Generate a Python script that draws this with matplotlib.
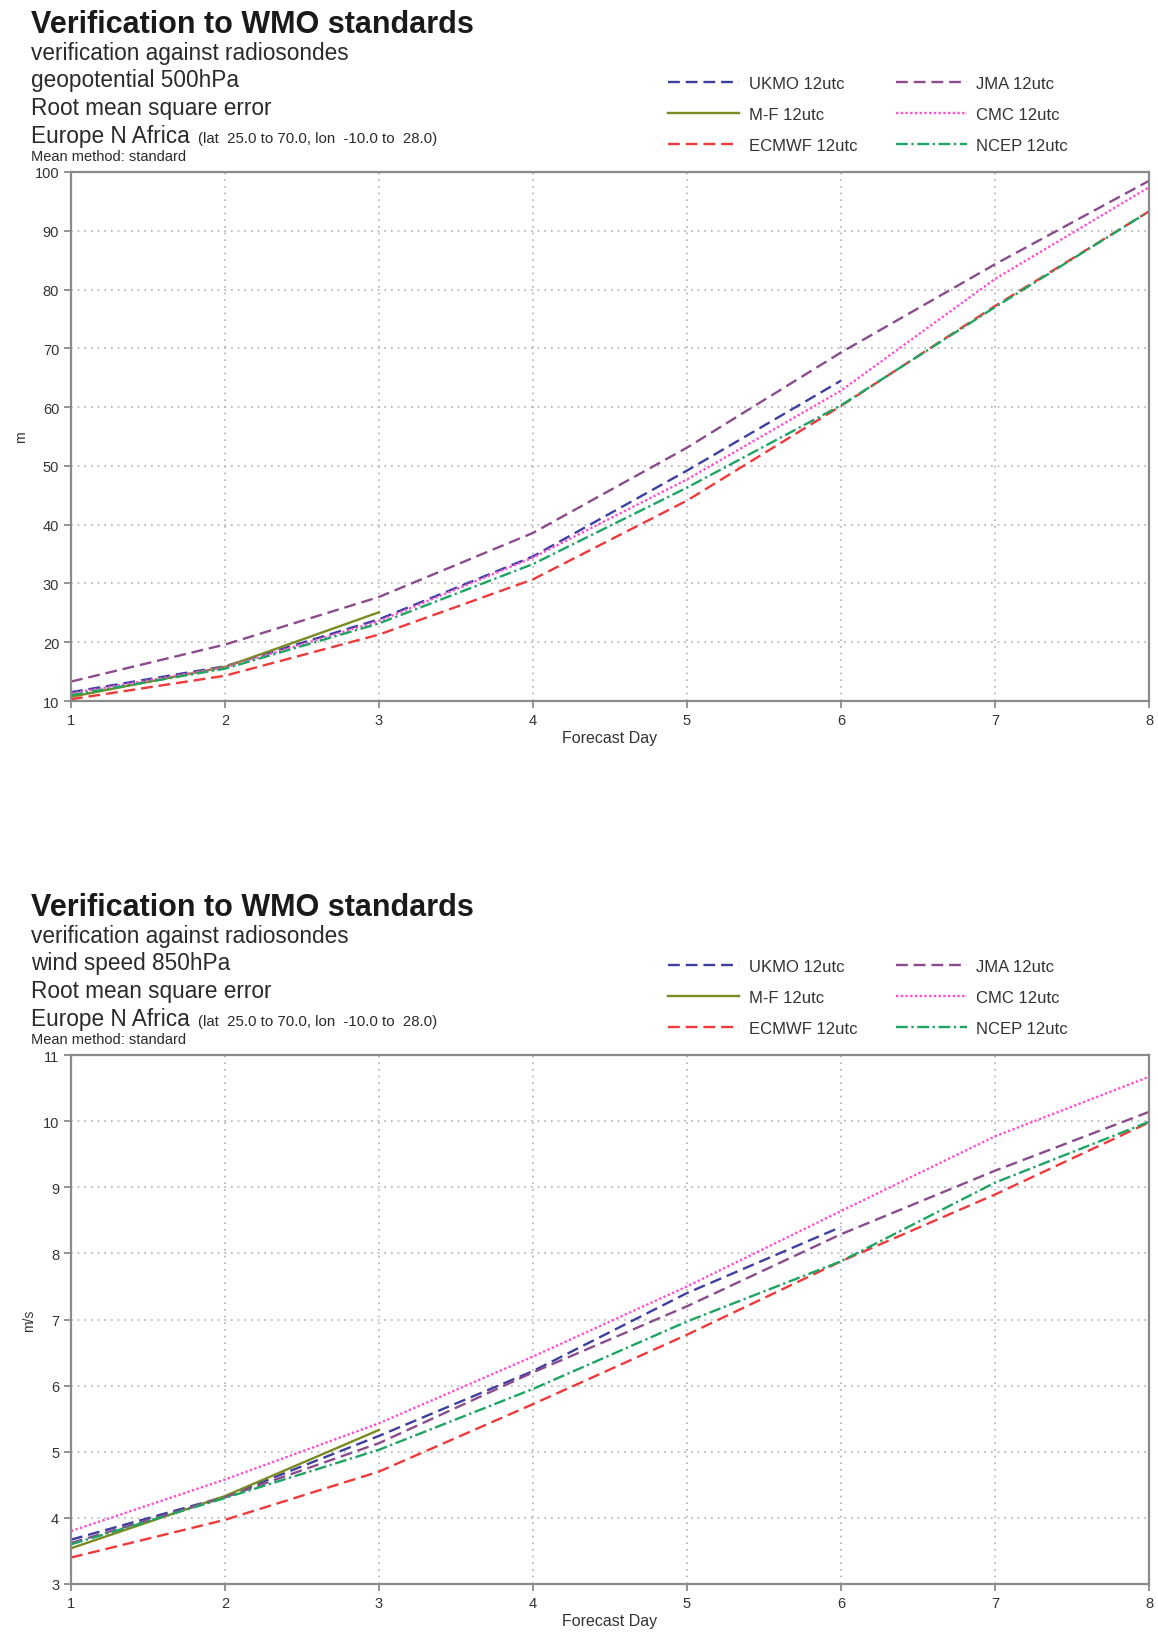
import matplotlib
matplotlib.use("Agg")
import matplotlib.pyplot as plt

plt.rcParams['font.family'] = ['Liberation Sans', 'DejaVu Sans']

days = [1, 2, 3, 4, 5, 6, 7, 8]

# geopotential 500hPa, RMSE (m)
z500_ukmo = [11.5, 15.9, 23.9, 34.6, 49.2, 64.5]
z500_mf = [10.7, 15.8, 25.1]
z500_ecmwf = [10.3, 14.3, 21.3, 30.7, 44.1, 60.2, 77.2, 93.3]
z500_jma = [13.3, 19.6, 27.7, 38.6, 53.1, 69.3, 84.3, 98.5]
z500_cmc = [11.3, 15.7, 23.6, 34.4, 47.7, 62.8, 81.8, 97.4]
z500_ncep = [11.0, 15.5, 23.2, 33.3, 46.3, 60.3, 77.0, 93.3]

# wind speed 850hPa, RMSE (m/s)
ws850_ukmo = [3.67, 4.32, 5.24, 6.22, 7.40, 8.40]
ws850_mf = [3.54, 4.33, 5.33]
ws850_ecmwf = [3.40, 3.97, 4.70, 5.72, 6.77, 7.88, 8.89, 9.98]
ws850_jma = [3.62, 4.31, 5.13, 6.20, 7.20, 8.29, 9.25, 10.14]
ws850_cmc = [3.80, 4.58, 5.43, 6.44, 7.50, 8.64, 9.77, 10.67]
ws850_ncep = [3.60, 4.30, 5.03, 5.95, 6.97, 7.88, 9.07, 9.99]

models = ['UKMO 12utc', 'M-F 12utc', 'ECMWF 12utc', 'JMA 12utc', 'CMC 12utc', 'NCEP 12utc']
colors = ['#3d3f9e', '#7b8a22', '#ee3a3a', '#8a4c8c', '#ff4fd0', '#1fa463']
styles = [(0, (5, 2.5)), '-', (0, (5, 2.5)), (0, (5, 2.5)), (0, (1, 1)), (0, (5, 1.5, 1, 1.5))]

W, H = 1158, 1633
fig = plt.figure(figsize=(W / 100, H / 100), dpi=100)


def fx(px):
    return px / W


def fy(py):
    return 1 - py / H


def panel(off, param, series, ylim, yticks, ylabel):
    tc = '#1a1a1a'
    fig.text(fx(31), fy(33 + off), 'Verification to WMO standards',
             fontsize=22, fontweight='bold', color=tc, va='baseline')
    lines = ['verification against radiosondes', param, 'Root mean square error']
    for i, s in enumerate(lines):
        fig.text(fx(31), fy(60 + off + i * 27.5), s, fontsize=16.3,
                 color='#2a2a2a', va='baseline')
    fig.text(fx(31), fy(143 + off), 'Europe N Africa', fontsize=16.3,
             color='#2a2a2a', va='baseline')
    fig.text(fx(198), fy(143 + off), '(lat  25.0 to 70.0, lon  -10.0 to  28.0)',
             fontsize=10.8, color='#2a2a2a', va='baseline')
    fig.text(fx(31), fy(161 + off), 'Mean method: standard', fontsize=10.5,
             color='#2a2a2a', va='baseline')

    ax = fig.add_axes([fx(71), fy(702 + off), fx(1149 - 71), (702 - 173) / H])
    handles = []
    for vals, lab, c, ls in zip(series, models, colors, styles):
        h, = ax.plot(days[:len(vals)], vals, color=c, linestyle=ls,
                     linewidth=1.7, label=lab)
        handles.append(h)
    ax.set_xlim(1, 8)
    ax.set_ylim(*ylim)
    ax.set_xticks(days)
    ax.set_yticks(yticks)
    ax.grid(True, color='#b0b0b0', linestyle=(0, (1, 3)), linewidth=1.2)
    for sp in ax.spines.values():
        sp.set_color('#8a8a8a')
        sp.set_linewidth(1.6)
    ax.tick_params(colors='#8a8a8a', labelcolor='#333333', labelsize=10.5,
                   length=5, width=1.3, direction='out')
    ax.set_xlabel('Forecast Day', fontsize=11.5, color='#333333', labelpad=2)
    ax.set_ylabel(ylabel, fontsize=10, color='#333333', labelpad=5)

    fig.legend(handles=handles, loc='upper left', ncol=2, frameon=False,
               bbox_to_anchor=(fx(668), fy(77 + off)), borderpad=0,
               borderaxespad=0, fontsize=12, handlelength=4.25,
               handletextpad=0.6, columnspacing=2.3, labelspacing=0.95,
               labelcolor='#333333')


panel(0, 'geopotential 500hPa',
      [z500_ukmo, z500_mf, z500_ecmwf, z500_jma, z500_cmc, z500_ncep],
      (10, 100), list(range(10, 101, 10)), 'm')
panel(883, 'wind speed 850hPa',
      [ws850_ukmo, ws850_mf, ws850_ecmwf, ws850_jma, ws850_cmc, ws850_ncep],
      (3, 11), list(range(3, 12)), 'm/s')

fig.savefig('out.png', dpi=100)
